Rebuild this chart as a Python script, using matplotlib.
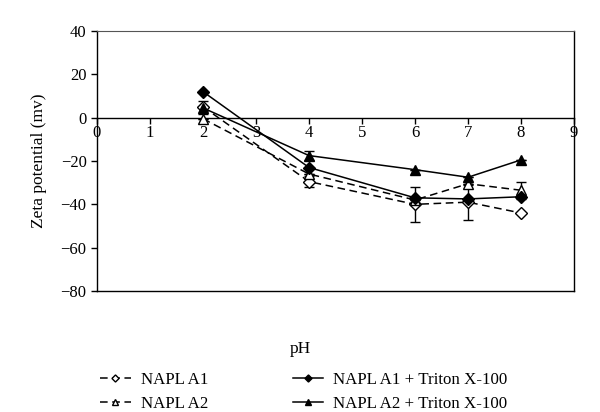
import matplotlib
matplotlib.use("Agg")
import matplotlib.pyplot as plt

plt.rcParams["font.family"] = ["Liberation Serif", "DejaVu Serif"]

# data
ph = [2, 4, 6, 7, 8]
napl_a1 = [5, -29.5, -40, -39, -44]
napl_a2 = [-0.5, -26, -38, -30.5, -33.5]
napl_a1_triton = [12, -23, -37, -37.5, -36.5]
napl_a2_triton = [4.5, -17.5, -24, -27.5, -19.5]

err_a1 = [0, 2.5, 8, 8, 0]
err_a2 = [0, 0, 0, 0, 4]
err_a1_triton = [0, 0, 0, 0, 0]
err_a2_triton = [3, 2, 0, 0, 0]

labels = ["NAPL A1", "NAPL A2", "NAPL A1 + Triton X-100", "NAPL A2 + Triton X-100"]

fig = plt.figure(figsize=(6.0, 4.12), dpi=100)
ax = fig.add_axes([97 / 600, 1 - 291 / 412, 477 / 600, 260 / 412])

series = [
    (napl_a1, err_a1, "--", "D", "white", 6),
    (napl_a2, err_a2, "--", "^", "white", 7),
    (napl_a1_triton, err_a1_triton, "-", "D", "black", 6),
    (napl_a2_triton, err_a2_triton, "-", "^", "black", 7),
]
handles = []
for (vals, err, ls, mk, fc, ms), lab in zip(series, labels):
    ax.errorbar(ph, vals, yerr=err, fmt="none", ecolor="black", elinewidth=1.0,
                capsize=3.5, capthick=1.0, zorder=2)
    h, = ax.plot(ph, vals, linestyle=ls, color="black", linewidth=1.1,
                 marker=mk, markersize=ms, markerfacecolor=fc,
                 markeredgecolor="black", markeredgewidth=1.0, label=lab,
                 dashes=(5, 3) if ls == "--" else (None, None), zorder=3)
    handles.append(h)

ax.set_xlim(0, 9)
ax.set_ylim(-80, 40)
ax.set_xticks(range(0, 10))
ax.set_yticks(range(-80, 41, 20))
ax.set_yticklabels([f"{v}".replace("-", "\u2212") for v in range(-80, 41, 20)])

ax.spines["bottom"].set_position(("data", 0))
ax.spines["top"].set_color("#555555")
for s in ["left", "right", "bottom"]:
    ax.spines[s].set_color("black")
    ax.spines[s].set_linewidth(1.0)
ax.axhline(-80, color="black", linewidth=1.0, clip_on=False, zorder=1)

ax.tick_params(axis="both", direction="out", length=4, width=1.0,
               labelsize=12, colors="black")
ax.tick_params(axis="x", pad=1)

ax.set_ylabel("Zeta potential (mv)", fontsize=12.5, labelpad=10)
fig.text(0.5, 1 - 349 / 412, "pH", ha="center", va="center", fontsize=12.5)

fig.legend(handles=handles, labels=labels,
           ncol=2, loc="upper left", bbox_to_anchor=(100 / 600, 1 - 372 / 412),
           frameon=False, fontsize=12.2, handlelength=1.8, borderpad=0,
           borderaxespad=0, columnspacing=5.0, labelspacing=0.45,
           markerscale=0.6, handletextpad=0.6)

fig.savefig("out.png", dpi=100)
